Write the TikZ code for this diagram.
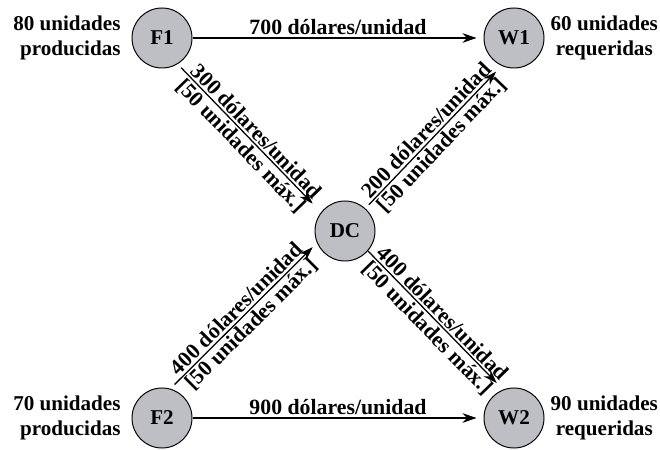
\documentclass[tikz,border=0pt]{standalone}
\usepackage{fontspec}
\setmainfont{Liberation Serif}
\usetikzlibrary{positioning,arrows.meta}
\definecolor{sitegray}{RGB}{190,191,196}
\begin{document}
\begin{tikzpicture}[
    x=0.025cm, y=0.025cm,
    site/.style={circle, draw, line width=0.7pt, fill=sitegray,
                 minimum size=1.5cm, inner sep=0pt},
    arrow/.style={->, >={Stealth[length=3.5mm,width=2.4mm]}, line width=0.9pt},
    lab/.style={inner sep=1.5pt, font=\bfseries\fontsize{15.5}{18}\selectfont},
    every node/.style={font=\bfseries\fontsize{15}{17.8}\selectfont}
]
\useasboundingbox (0,0) rectangle (660,449);

\node[site] (F1) at (162,411) {F1};
\node[site] (W1) at (514,411) {W1};
\node[site] (DC) at (345,218) {DC};
\node[site] (F2) at (162,31) {F2};
\node[site] (W2) at (514,31) {W2};

\node[left=0.15cm of F1, align=right] (F1lab) {80 unidades\\producidas};
\node[right=0.03cm of W1, align=center] (W1lab) {60 unidades\\requeridas};
\node[left=0.15cm of F2, align=right] (F2lab) {70 unidades\\producidas};
\node[right=0.03cm of W2, align=center] (W2lab) {90 unidades\\requeridas};

\draw[arrow, shorten >=1.75mm] (F1) -- (W1)
    node[midway, above, lab] (a1) {700 dólares/unidad};
\draw[arrow, shorten >=1.75mm] (F2) -- (W2)
    node[midway, above, lab] (a2) {900 dólares/unidad};

\draw[arrow, shorten <=1.25mm, shorten >=3mm] (F1.-59) -- (DC.142)
    node[midway, sloped, above, lab] (a3) {300 dólares/unidad}
    node[midway, sloped, below, lab] (b3) {[50 unidades máx.]};
\draw[arrow, shorten <=1.5mm, shorten >=1.5mm] (F2.74) -- (DC.203)
    node[midway, sloped, above, lab] (a4) {400 dólares/unidad}
    node[midway, sloped, below, lab] (b4) {[50 unidades máx.]};
\draw[arrow, shorten <=1.25mm, shorten >=2mm] (DC.48) -- (W1.246)
    node[midway, sloped, above, lab] (a5) {200 dólares/unidad}
    node[midway, sloped, below, lab] (b5) {[50 unidades máx.]};
\draw[arrow, shorten >=2.25mm] (DC.-41) -- (W2.111)
    node[midway, sloped, above, lab] (a6) {400 dólares/unidad}
    node[midway, sloped, below, lab] (b6) {[50 unidades máx.]};
\end{tikzpicture}
\end{document}
